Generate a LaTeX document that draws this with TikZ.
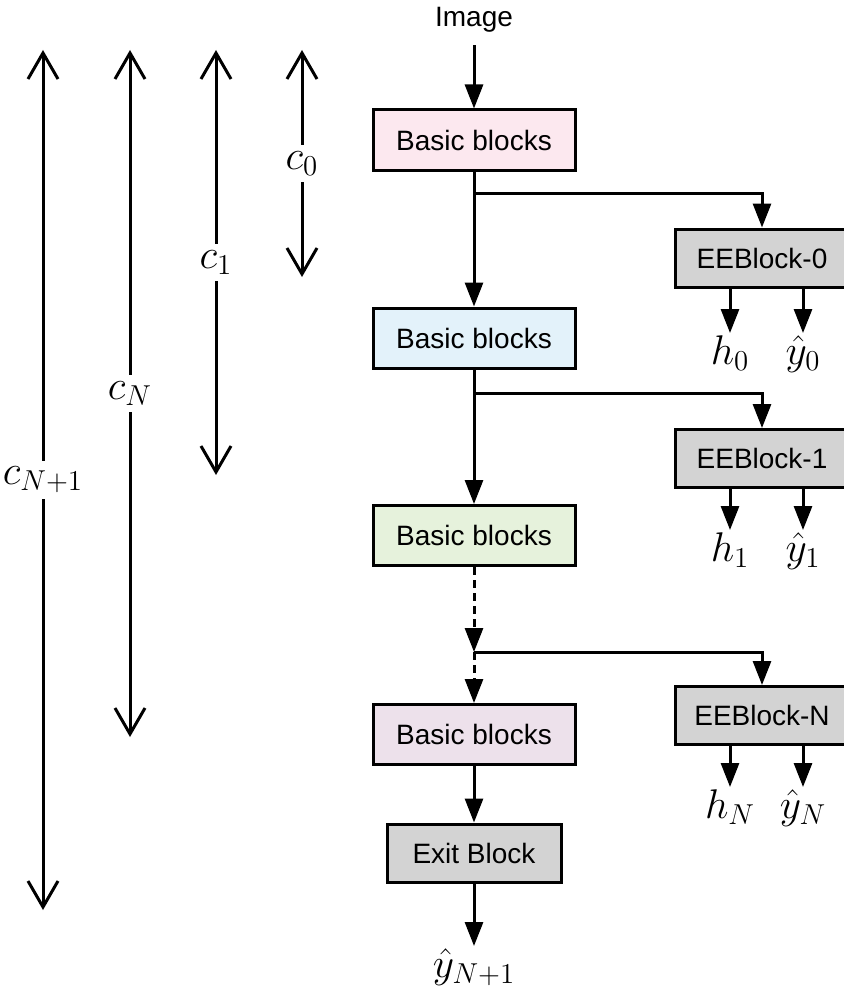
\documentclass[tikz,border=0pt]{standalone}
\usepackage[no-math]{fontspec}
\setmainfont{Liberation Sans}
\usetikzlibrary{arrows.meta}
\definecolor{bbpink}{HTML}{FCE8EF}
\definecolor{bbblue}{HTML}{E3F2FA}
\definecolor{bbgreen}{HTML}{E6F2DC}
\definecolor{bbviolet}{HTML}{EDE1EB}
\definecolor{eegray}{HTML}{D3D3D3}
\begin{document}
\begin{tikzpicture}[x=0.5pt,y=-0.5pt,
  box/.style={draw, line width=1.5pt, minimum width=101pt, minimum height=30pt,
    inner sep=0pt, font=\fontsize{14}{17}\selectfont},
  eebox/.style={box, fill=eegray, minimum width=87pt, minimum height=29pt},
  flow/.style={line width=1.5pt, -{Triangle[length=12pt,width=9pt]}},
  span/.style={line width=1.5pt,
    {Straight Barb[length=13pt,width=15pt]}-{Straight Barb[length=13pt,width=15pt]}},
  lab/.style={font=\fontsize{20}{24}\selectfont, inner sep=1pt},
  spanlab/.style={lab, fill=white, inner sep=3pt},
  dotted flow/.style={flow, dash pattern=on 4pt off 2.5pt}
]
\useasboundingbox (0,0) rectangle (844,990);
\clip (0,0) rectangle (844,990);

% input
\node[anchor=base, inner sep=6pt, font=\fontsize{14}{17}\selectfont] (img) at (474,27) {Image};

% backbone
\node[box, fill=bbpink]   (b1) at (474,140)   {Basic blocks};
\node[box, fill=bbblue]   (b2) at (474,338)   {Basic blocks};
\node[box, fill=bbgreen]  (b3) at (474,535.5) {Basic blocks};
\node[box, fill=bbviolet] (b4) at (474,734.5) {Basic blocks};
\node[eebox] (exit) at (474,853) {Exit Block};

% early-exit heads
\node[eebox] (ee0) at (762,258)   {EEBlock-0};
\node[eebox] (ee1) at (762,458.5) {EEBlock-1};
\node[eebox] (eeN) at (762,715.5) {EEBlock-N};

% branch points
\coordinate (s0) at (474,193);
\coordinate (s1) at (474,393);
\coordinate (sN) at (474,652);

% outputs
\node[lab, anchor=north] (h0) at (730,333) {$h_0$};
\node[lab, anchor=north] (y0) at (803,333) {$\hat{y}_0$};
\node[lab, anchor=north] (h1) at (730,530) {$h_1$};
\node[lab, anchor=north] (y1) at (803,530) {$\hat{y}_1$};
\node[lab, anchor=north] (hN) at (730,787) {$h_N$};
\node[lab, anchor=north] (yN) at (803,787) {$\hat{y}_N$};
\node[lab, anchor=north] (yout) at (474,946) {$\hat{y}_{N+1}$};

% main flow
\draw[flow] (img.south) -- (b1.north);
\draw[flow] (b1.south) -- (b2.north);
\draw[flow] (b2.south) -- (b3.north);
\draw[dotted flow] (b3.south) -- (sN);
\draw[dotted flow] (sN) -- (b4.north);
\draw[flow] (b4.south) -- (exit.north);
\draw[flow] (exit.south) -- (yout.north);

% branches to the early exits
\draw[flow] (s0) -| (ee0.north);
\draw[flow] (s1) -| (ee1.north);
\draw[flow] (sN) -| (eeN.north);

% early-exit outputs
\draw[flow] (ee0.south -| h0.north) -- (h0.north);
\draw[flow] (ee0.south -| y0.north) -- (y0.north);
\draw[flow] (ee1.south -| h1.north) -- (h1.north);
\draw[flow] (ee1.south -| y1.north) -- (y1.north);
\draw[flow] (eeN.south -| hN.north) -- (hN.north);
\draw[flow] (eeN.south -| yN.north) -- (yN.north);

% cost spans
\coordinate (c0t) at (302,50);  \coordinate (c0b) at (302,277);
\coordinate (c1t) at (216,50);  \coordinate (c1b) at (216,475);
\coordinate (cNt) at (130,50);  \coordinate (cNb) at (130,737);
\coordinate (cMt) at (43,50);   \coordinate (cMb) at (43,910);
\draw[span] (c0t) -- node[spanlab] (lc0) {$c_0$} (c0b);
\draw[span] (c1t) -- node[spanlab] (lc1) {$c_1$} (c1b);
\draw[span] (cNt) -- node[spanlab] (lcN) {$c_N$} (cNb);
\draw[span] (cMt) -- node[spanlab] (lcM) {$c_{N+1}$} (cMb);
\end{tikzpicture}
\end{document}
